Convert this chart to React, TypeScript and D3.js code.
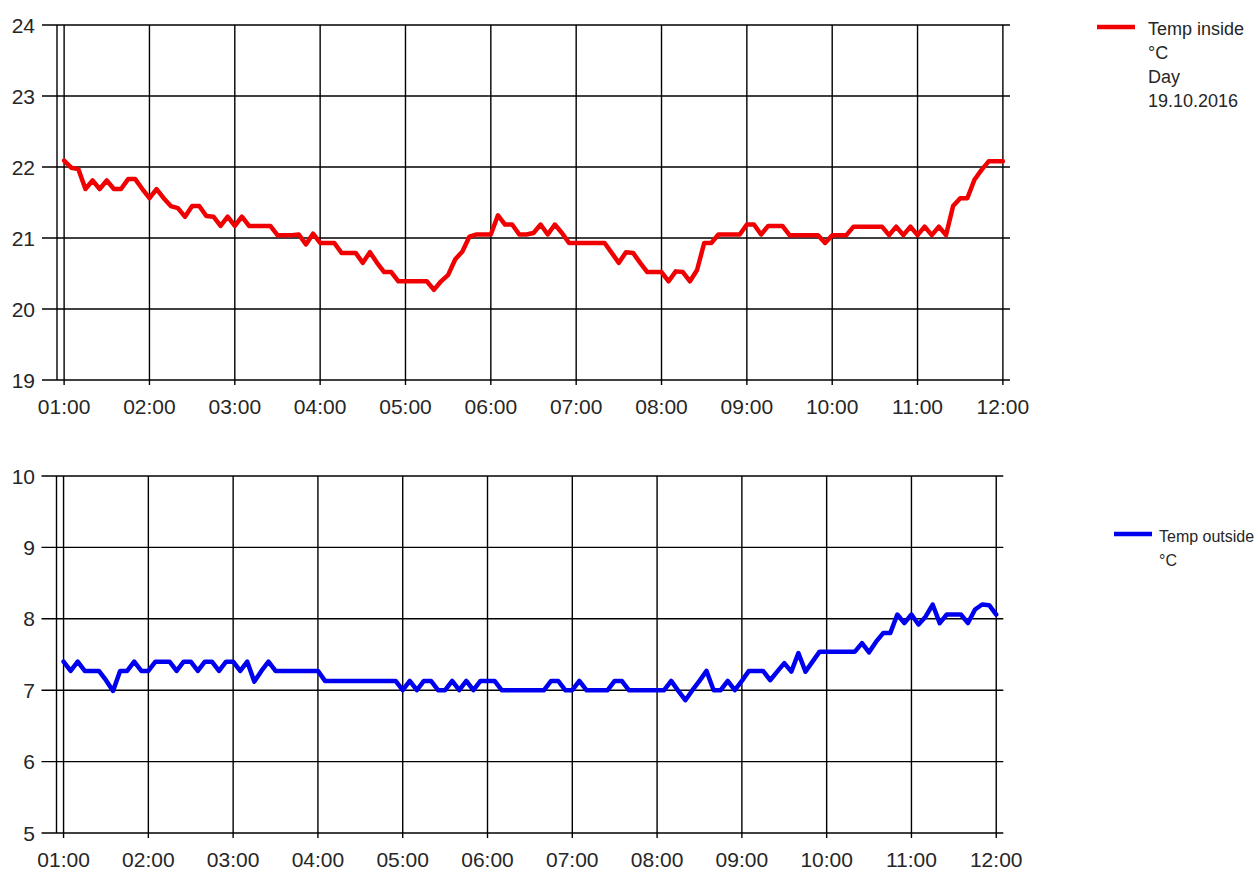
import React from "react";
import * as d3 from "d3";

// Sampling: every 5 minutes starting at 01:00
const startMinute = 60;
const stepMinutes = 5;

const tempInside: number[] = [
  22.09, 21.99, 21.97, 21.69, 21.81, 21.69, 21.81, 21.69, 21.69, 21.83,
  21.83, 21.69, 21.56, 21.69, 21.56, 21.45, 21.42, 21.30, 21.45, 21.45,
  21.31, 21.30, 21.17, 21.30, 21.17, 21.30, 21.17, 21.17, 21.17, 21.17,
  21.04, 21.04, 21.04, 21.05, 20.91, 21.06, 20.93, 20.93, 20.93, 20.79,
  20.79, 20.79, 20.65, 20.80, 20.65, 20.52, 20.52, 20.39, 20.39, 20.39,
  20.39, 20.39, 20.27, 20.39, 20.48, 20.70, 20.81, 21.02, 21.05, 21.05,
  21.05, 21.32, 21.19, 21.19, 21.05, 21.05, 21.07, 21.19, 21.05, 21.19,
  21.07, 20.93, 20.93, 20.93, 20.93, 20.93, 20.93, 20.79, 20.65, 20.80,
  20.79, 20.65, 20.52, 20.52, 20.52, 20.39, 20.53, 20.52, 20.39, 20.55,
  20.93, 20.93, 21.05, 21.05, 21.05, 21.05, 21.19, 21.19, 21.05, 21.17,
  21.17, 21.17, 21.04, 21.04, 21.04, 21.04, 21.04, 20.93, 21.04, 21.04,
  21.04, 21.16, 21.16, 21.16, 21.16, 21.16, 21.04, 21.16, 21.04, 21.16,
  21.04, 21.16, 21.04, 21.16, 21.04, 21.45, 21.56, 21.56, 21.82, 21.96,
  22.08, 22.08, 22.08,
];

const tempOutside: number[] = [
  7.40, 7.27, 7.40, 7.27, 7.27, 7.27, 7.14, 6.99, 7.27, 7.27,
  7.40, 7.27, 7.27, 7.40, 7.40, 7.40, 7.27, 7.40, 7.40, 7.27,
  7.40, 7.40, 7.27, 7.40, 7.40, 7.27, 7.40, 7.12, 7.27, 7.40,
  7.27, 7.27, 7.27, 7.27, 7.27, 7.27, 7.27, 7.13, 7.13, 7.13,
  7.13, 7.13, 7.13, 7.13, 7.13, 7.13, 7.13, 7.13, 7.00, 7.13,
  7.00, 7.13, 7.13, 7.00, 7.00, 7.13, 7.00, 7.13, 7.00, 7.13,
  7.13, 7.13, 7.00, 7.00, 7.00, 7.00, 7.00, 7.00, 7.00, 7.13,
  7.13, 7.00, 7.00, 7.13, 7.00, 7.00, 7.00, 7.00, 7.13, 7.13,
  7.00, 7.00, 7.00, 7.00, 7.00, 7.00, 7.13, 6.99, 6.86, 7.00,
  7.13, 7.27, 7.00, 7.00, 7.13, 7.00, 7.13, 7.27, 7.27, 7.27,
  7.14, 7.26, 7.38, 7.26, 7.52, 7.26, 7.40, 7.54, 7.54, 7.54,
  7.54, 7.54, 7.54, 7.66, 7.53, 7.68, 7.80, 7.80, 8.06, 7.94,
  8.06, 7.92, 8.03, 8.20, 7.94, 8.06, 8.06, 8.06, 7.94, 8.13,
  8.20, 8.19, 8.06,
];

const hourTicks: number[] = [60, 120, 180, 240, 300, 360, 420, 480, 540, 600, 660, 720];
const hourLabels: string[] = ["01:00", "02:00", "03:00", "04:00", "05:00", "06:00", "07:00", "08:00", "09:00", "10:00", "11:00", "12:00"];
const insideTicks: number[] = [19, 20, 21, 22, 23, 24];
const outsideTicks: number[] = [5, 6, 7, 8, 9, 10];
const insideLegend: string[] = ["Temp inside", "°C", "Day", "19.10.2016"];
const outsideLegend: string[] = ["Temp outside", "°C"];

const FONT = "'Liberation Sans', Arial, sans-serif";
const TEXT = "#262626";

type PanelProps = {
  values: number[];
  yDomain: [number, number];
  yTicks: number[];
  left: number;
  right: number;
  top: number;
  bottom: number;
  color: string;
  legend: string[];
  legendX1: number;
  legendX2: number;
  legendTextX: number;
  legendY: number;
  legendFont: number;
};

function Panel(p: PanelProps) {
  const x = d3.scaleLinear().domain([55, 725]).range([p.left, p.right]);
  const y = d3.scaleLinear().domain(p.yDomain).range([p.bottom, p.top]);
  const pts: [number, number][] = p.values.map((v, i) => [startMinute + i * stepMinutes, v]);
  const line = d3
    .line<[number, number]>()
    .x((d) => x(d[0]))
    .y((d) => y(d[1]));
  return (
    <g>
      {p.yTicks.map((t) => (
        <g key={"y" + t}>
          <line x1={p.left - 15} x2={p.right} y1={y(t)} y2={y(t)} stroke="#000" strokeWidth={1.4} />
          <text x={35} y={y(t)} dy="0.36em" textAnchor="end" fontFamily={FONT} fontSize={21} fill={TEXT}>
            {t}
          </text>
        </g>
      ))}
      <line x1={p.left} x2={p.left} y1={p.top} y2={p.bottom} stroke="#000" strokeWidth={1.4} />
      {hourTicks.map((t, i) => (
        <g key={"x" + t}>
          <line x1={x(t)} x2={x(t)} y1={p.top} y2={p.bottom + 5} stroke="#000" strokeWidth={1.4} />
          <text x={x(t)} y={p.bottom + 34} textAnchor="middle" fontFamily={FONT} fontSize={21} fill={TEXT}>
            {hourLabels[i]}
          </text>
        </g>
      ))}
      <path d={line(pts) || ""} fill="none" stroke={p.color} strokeWidth={4.5} strokeLinejoin="round" strokeLinecap="round" />
      <line x1={p.legendX1} x2={p.legendX2} y1={p.legendY} y2={p.legendY} stroke={p.color} strokeWidth={4.5} />
      {p.legend.map((s, i) => (
        <text
          key={s}
          x={p.legendTextX}
          y={p.legendY + 8 + i * 24}
          fontFamily={FONT}
          fontSize={p.legendFont}
          fill={TEXT}
        >
          {s}
        </text>
      ))}
    </g>
  );
}

export default function App() {
  return (
    <svg
      width={1258}
      height={872}
      style={{ position: "absolute", left: 0, top: 0, background: "#fff" }}
    >
      <rect x={0} y={0} width={1258} height={872} fill="#fff" />
      <Panel
        values={tempInside}
        yDomain={[19, 24]}
        yTicks={insideTicks}
        left={57}
        right={1010}
        top={25}
        bottom={380}
        color="#f00000"
        legend={insideLegend}
        legendX1={1097}
        legendX2={1135}
        legendTextX={1148}
        legendY={27}
        legendFont={18}
      />
      <Panel
        values={tempOutside}
        yDomain={[5, 10]}
        yTicks={outsideTicks}
        left={56.5}
        right={1003.3}
        top={476}
        bottom={833}
        color="#0000f0"
        legend={outsideLegend}
        legendX1={1114}
        legendX2={1152}
        legendTextX={1159}
        legendY={534}
        legendFont={16}
      />
    </svg>
  );
}
